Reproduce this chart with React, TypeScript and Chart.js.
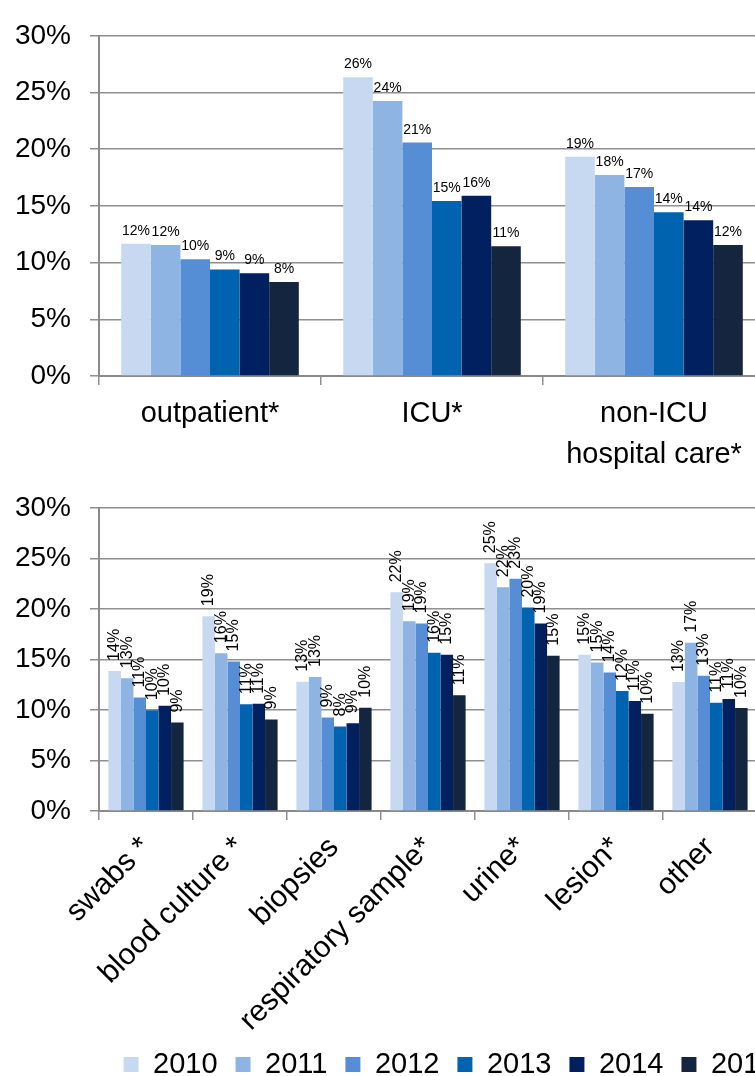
import React, { useEffect, useRef } from 'react';
import { Chart, registerables } from 'chart.js';

Chart.register(...registerables);

const FONT = '"Liberation Sans", Arial, Helvetica, sans-serif';

// ---------- data ----------
const years = ['2010', '2011', '2012', '2013', '2014', '2015'];
const yearColors = ['#C6D9F1', '#8DB4E2', '#558ED5', '#0063B0', '#002060', '#14253F'];

const topCategories: (string | string[])[] = ['outpatient*', 'ICU*', ['non-ICU', 'hospital care*']];
const top2010 = [11.66, 26.35, 19.34];
const top2011 = [11.55, 24.25, 17.73];
const top2012 = [10.3, 20.58, 16.67];
const top2013 = [9.4, 15.43, 14.45];
const top2014 = [9.05, 15.9, 13.73];
const top2015 = [8.3, 11.45, 11.55];

const bottomCategories = ['swabs *', 'blood culture *', 'biopsies', 'respiratory sample*', 'urine*', 'lesion*', 'other'];
const bottom2010 = [13.86, 19.28, 12.79, 21.64, 24.52, 15.46, 12.76];
const bottom2011 = [13.14, 15.62, 13.26, 18.78, 22.14, 14.7, 16.65];
const bottom2012 = [11.23, 14.8, 9.25, 18.55, 22.98, 13.7, 13.39];
const bottom2013 = [9.97, 10.57, 8.37, 15.65, 20.13, 11.88, 10.72];
const bottom2014 = [10.41, 10.6, 8.69, 15.46, 18.55, 10.88, 11.07];
const bottom2015 = [8.75, 9.06, 10.22, 11.45, 15.37, 9.63, 10.19];

const yMin = 0;
const yMax = 30;
const yStep = 5;
const pctLabel = (v: number) => `${v}%`;

const topSeries = [top2010, top2011, top2012, top2013, top2014, top2015];
const bottomSeries = [bottom2010, bottom2011, bottom2012, bottom2013, bottom2014, bottom2015];

// ---------- styles ----------
const GRID = '#8f8f8f';
const AXIS = '#8a8a8a';

const valueLabels = {
  id: 'valueLabels',
  afterDatasetsDraw(chart: any, _args: any, opts: any) {
    const { ctx } = chart;
    ctx.save();
    ctx.font = `${opts.size}px ${FONT}`;
    ctx.fillStyle = '#000';
    chart.data.datasets.forEach((ds: any, i: number) => {
      const meta = chart.getDatasetMeta(i);
      meta.data.forEach((bar: any, j: number) => {
        const text = `${Math.round(ds.data[j])}%`;
        if (opts.rotate) {
          ctx.save();
          ctx.translate(bar.x, bar.y - opts.gap);
          ctx.rotate(-Math.PI / 2);
          ctx.textAlign = 'left';
          ctx.textBaseline = 'middle';
          ctx.fillText(text, 0, 0);
          ctx.restore();
        } else {
          ctx.textAlign = 'center';
          ctx.textBaseline = 'alphabetic';
          ctx.fillText(text, bar.x, bar.y - opts.gap);
        }
      });
    });
    ctx.restore();
  },
};

function makeDatasets(series: number[][]) {
  return series.map((data, i) => ({
    label: years[i],
    data,
    backgroundColor: yearColors[i],
    borderWidth: 0,
    categoryPercentage: 0.8,
    barPercentage: 1.0,
  }));
}

function yScale(width: number) {
  return {
    min: yMin,
    max: yMax,
    ticks: {
      stepSize: yStep,
      callback: (v: any) => pctLabel(v),
      font: { size: 28, family: FONT },
      color: '#000',
      padding: 19,
    },
    grid: { color: GRID, lineWidth: 1.5, tickLength: 9 },
    border: { color: AXIS, width: 2 },
    afterFit: (s: any) => {
      s.width = width;
    },
  };
}

export default function App() {
  const topRef = useRef<HTMLCanvasElement | null>(null);
  const bottomRef = useRef<HTMLCanvasElement | null>(null);

  useEffect(() => {
    Chart.defaults.font.family = FONT;
    const top = new Chart(topRef.current as HTMLCanvasElement, {
      type: 'bar',
      data: { labels: topCategories as any, datasets: makeDatasets(topSeries) as any },
      plugins: [valueLabels as any],
      options: {
        responsive: false,
        animation: false,
        layout: { padding: { top: 28, right: 10, left: 0, bottom: 0 } },
        plugins: {
          legend: { display: false },
          tooltip: { enabled: false },
          valueLabels: { size: 14, gap: 9, rotate: false },
        } as any,
        scales: {
          x: {
            grid: { offset: true, drawOnChartArea: false, drawTicks: true, tickLength: 9, color: GRID, lineWidth: 1.5 },
            border: { color: AXIS, width: 2 },
            ticks: {
              font: { size: 29, family: FONT, lineHeight: 1.4 },
              color: '#000',
              padding: 9,
              maxRotation: 0,
              minRotation: 0,
              autoSkip: false,
            },
            afterFit: (s: any) => {
              s.height = 96;
            },
          },
          y: yScale(99),
        } as any,
      },
    });

    const bottom = new Chart(bottomRef.current as HTMLCanvasElement, {
      type: 'bar',
      data: { labels: bottomCategories, datasets: makeDatasets(bottomSeries) as any },
      plugins: [valueLabels as any],
      options: {
        responsive: false,
        animation: false,
        layout: { padding: { top: 19, right: 0, left: 0, bottom: 0 } },
        plugins: {
          legend: {
            display: true,
            position: 'bottom',
            labels: {
              boxWidth: 15,
              boxHeight: 15,
              padding: 18,
              color: '#000',
              font: { size: 29, family: FONT },
            },
          },
          tooltip: { enabled: false },
          valueLabels: { size: 16, gap: 10, rotate: true },
        } as any,
        scales: {
          x: {
            grid: { offset: true, drawOnChartArea: false, drawTicks: true, tickLength: 9, color: GRID, lineWidth: 1.5 },
            border: { color: AXIS, width: 2 },
            ticks: {
              font: { size: 30, family: FONT },
              color: '#000',
              padding: 10,
              maxRotation: 45,
              minRotation: 45,
              autoSkip: false,
            },
            afterFit: (s: any) => {
              s.height = 221;
            },
          },
          y: yScale(99),
          y2: {
            position: 'right',
            display: true,
            grid: { display: false, drawTicks: false },
            border: { display: false },
            ticks: { display: false },
            afterFit: (s: any) => {
              s.width = 142;
            },
          },
        } as any,
      },
    });

    return () => {
      top.destroy();
      bottom.destroy();
    };
  }, []);

  return (
    <div
      style={{
        position: 'fixed',
        left: 0,
        top: 0,
        width: '755px',
        height: '1076px',
        overflow: 'hidden',
        background: '#fff',
      }}
    >
      <canvas ref={topRef} width={775} height={472} style={{ position: 'absolute', left: 0, top: 0 }} />
      <canvas ref={bottomRef} width={899} height={617} style={{ position: 'absolute', left: 0, top: 472 }} />
    </div>
  );
}
